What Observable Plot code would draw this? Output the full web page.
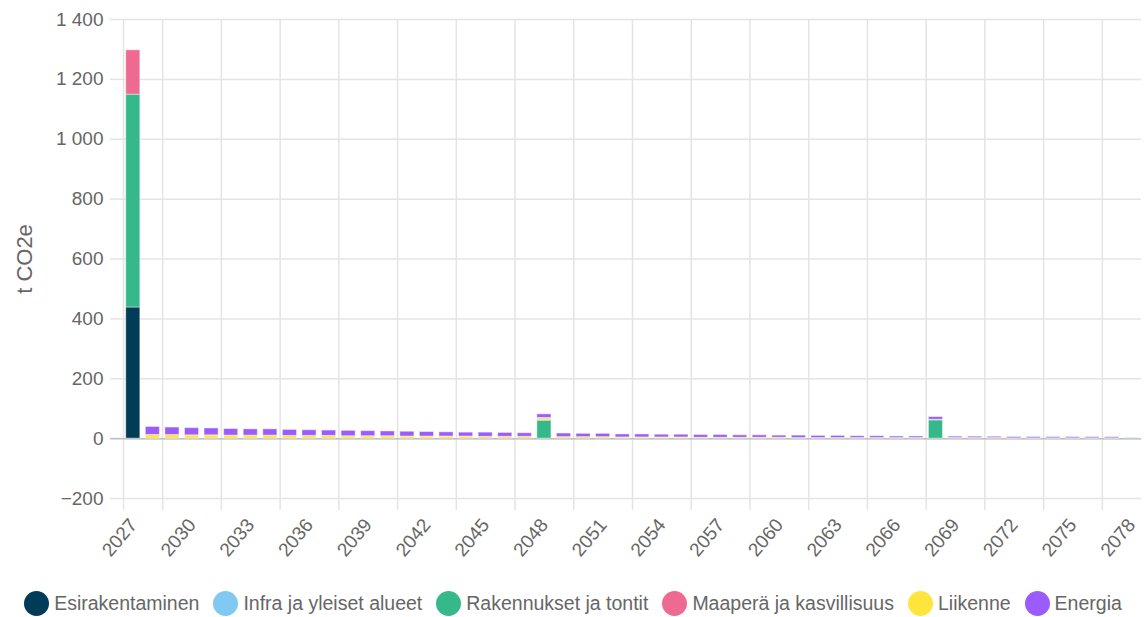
<!DOCTYPE html>
<html><head><meta charset="utf-8">
<script src="https://cdn.jsdelivr.net/npm/d3@7"></script>
<script src="https://cdn.jsdelivr.net/npm/@observablehq/plot@0.6"></script>
<style>
body{margin:0;background:#fff;font-family:"Liberation Sans",Arial,sans-serif;}
#legend{display:flex;justify-content:center;align-items:center;height:34px;font-size:19.5px;color:#666;}
.item{display:flex;align-items:center;margin:0 7px;}
.sw{width:25px;height:25px;border-radius:50%;margin-right:5px;}
</style></head><body><div id="chart"></div><div id="legend"></div>
<script>
const years = [2027,2028,2029,2030,2031,2032,2033,2034,2035,2036,
  2037,2038,2039,2040,2041,2042,2043,2044,2045,2046,
  2047,2048,2049,2050,2051,2052,2053,2054,2055,2056,
  2057,2058,2059,2060,2061,2062,2063,2064,2065,2066,
  2067,2068,2069,2070,2071,2072,2073,2074,2075,2076,
  2077,2078];
const seriesNames = ["Esirakentaminen","Infra ja yleiset alueet","Rakennukset ja tontit","Maaperä ja kasvillisuus","Liikenne","Energia"];
const colors = ["#003b57","#80c9f2","#35b98a","#ee6a90","#ffe53b","#9b5cff"];

const esirakentaminen = [438,0,0,0,0,0,0,0,0,0, 0,0,0,0,0,0,0,0,0,0, 0,0,0,0,0,0,0,0,0,0, 0,0,0,0,0,0,0,0,0,0, 0,0,0,0,0,0,0,0,0,0, 0,0];
const infra = [0,0,0,0,0,0,0,0,0,0, 0,0,0,0,0,0,0,0,0,0, 0,0,0,0,0,0,0,0,0,0, 0,0,0,0,0,0,0,0,0,0, 0,0,0,0,0,0,0,0,0,0, 0,0];
const rakennukset = [711,0,0,0,0,0,0,0,0,0, 0,0,0,0,0,0,0,0,0,0, 0,60,0,0,0,0,0,0,0,0, 0,0,0,0,0,0,0,0,0,0, 0,61,0,0,0,0,0,0,0,0, 0,2];
const maapera = [148,0,0,0,0,0,0,0,0,0, 0,0,0,0,0,0,0,0,0,0, 0,3,0,0,0,0,0,0,0,0, 0,0,0,0,0,0,0,0,0,0, 0,0,0,0,0,0,0,0,0,0, 0,0];
const liikenne = [0,12,12,11,11,10,10,10,9,9, 9,8,8,8,7,7,7,7,6,6, 6,6,5,5,5,4,4,4,4,3, 3,3,3,3,2,2,2,2,2,2, 2,2,2,2,2,1,1,1,1,1, 1,0.5];
const energia = [0,27,25,24,23,22,21,21,20,19, 18,18,17,16,16,15,14,13,14,13, 12,12,12,11,11,10,10,9,9,9, 9,8,8,7,8,7,7,6,6,5, 5,9,4.5,4.4,4.2,4.3,4.2,4.1,4,3.9, 3.8,0.5];

const yTicks = [-200,0,200,400,600,800,1000,1200,1400];
const xTickLabels = [2027,2030,2033,2036,2039,2042,2045,2048,2051,2054,2057,2060,2063,2066,2069,2072,2075,2078];

const seriesValues = [esirakentaminen, infra, rakennukset, maapera, liikenne, energia];
const data = [];
seriesNames.forEach((s, i) => years.forEach((yr, j) => data.push({year: yr, series: s, value: seriesValues[i][j]})));

const fmt = d => (d < 0 ? "\u2212" : "") + d3.format(",")(Math.abs(d)).replace(/,/g, " ");
const xMin = years[0] - 0.5, xMax = years[years.length - 1] + 0.5;
const gridXs = [xMin, ...xTickLabels.slice(1).map(t => t - 1.5)];
const half = 0.36;
const gridColor = "#e4e4e4";

const chart = Plot.plot({
  width: 1146, height: 586,
  marginTop: 19, marginBottom: 88, marginLeft: 123, marginRight: 5,
  style: {fontFamily: "'Liberation Sans', Arial, sans-serif", fontSize: "19px", color: "#666", background: "#fff"},
  x: {type: "linear", domain: [xMin, xMax]},
  y: {domain: [-200, 1400]},
  color: {domain: seriesNames, range: colors},
  marks: [
    Plot.gridY(yTicks, {stroke: gridColor, strokeOpacity: 1, strokeWidth: 1.5}),
    Plot.gridX(gridXs, {stroke: gridColor, strokeOpacity: 1, strokeWidth: 1.5}),
    Plot.axisY(yTicks, {tickSize: 13, stroke: gridColor, strokeWidth: 1.5, tickFormat: () => "", label: null}),
    Plot.axisY([0], {tickSize: 13, stroke: "#bdbdbd", strokeWidth: 1.5, tickFormat: () => "", label: null}),
    Plot.axisY(yTicks, {tickSize: 0, tickPadding: 20, tickFormat: fmt, label: null, fill: "#666", fontSize: 19}),
    Plot.axisX(gridXs, {tickSize: 12, stroke: gridColor, strokeWidth: 1.5, tickFormat: () => "", label: null}),
    Plot.axisX(xTickLabels, {tickSize: 0, tickPadding: 23, tickRotate: -50, tickFormat: d => String(d), label: null, fill: "#666", fontSize: 19}),
    Plot.ruleY([0], {stroke: "#bdbdbd", strokeWidth: 1.5}),
    Plot.rectY(data, {x1: d => d.year - half, x2: d => d.year + half, y: "value", fill: "series", stroke: "#fff", strokeOpacity: 0.45, strokeWidth: 1}),
    Plot.text(["t CO2e"], {frameAnchor: "left", textAnchor: "middle", rotate: -90, dx: -99, fontSize: 22, fill: "#666"})
  ]
});
document.getElementById("chart").appendChild(chart);

const legend = document.getElementById("legend");
seriesNames.forEach((s, i) => {
  const item = document.createElement("div");
  item.className = "item";
  const sw = document.createElement("span");
  sw.className = "sw";
  sw.style.background = colors[i];
  const t = document.createElement("span");
  t.textContent = s;
  item.appendChild(sw); item.appendChild(t);
  legend.appendChild(item);
});
</script></body></html>
